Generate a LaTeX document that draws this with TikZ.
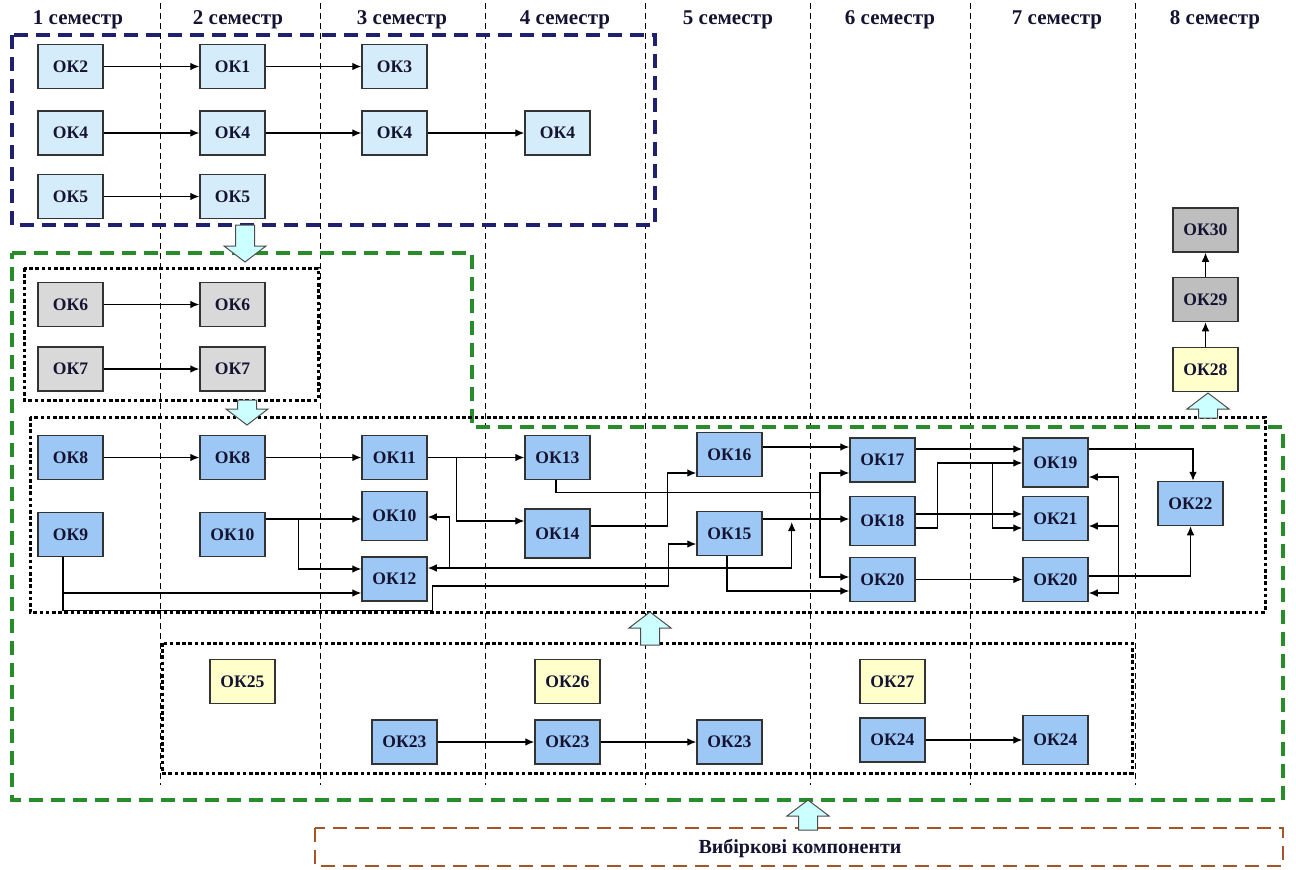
\documentclass[tikz,border=0pt]{standalone}
\usepackage{fontspec}
\setmainfont{Liberation Serif}
\usetikzlibrary{arrows.meta,calc}

\definecolor{boxblue}{RGB}{157,200,245}
\definecolor{paleblue}{RGB}{213,236,250}
\definecolor{boxgrey}{RGB}{217,217,217}
\definecolor{darkgrey}{RGB}{190,190,190}
\definecolor{paleyellow}{RGB}{255,255,204}
\definecolor{hollowcyan}{RGB}{204,255,255}
\definecolor{navyline}{RGB}{32,32,112}
\definecolor{greenline}{RGB}{40,140,40}
\definecolor{brownline}{RGB}{165,85,40}
\definecolor{labelink}{RGB}{20,20,50}

\begin{document}
\begin{tikzpicture}[x=0.5pt,y=-0.5pt,
   ok/.style={draw=black!80, line width=0.75pt, minimum width=32.5pt, minimum height=22pt,
      inner sep=0pt, text=labelink, font=\bfseries\fontsize{8.8}{10}\selectfont},
   okblue/.style={ok, fill=boxblue},
   okpale/.style={ok, fill=paleblue},
   okgrey/.style={ok, fill=boxgrey},
   okdark/.style={ok, fill=darkgrey},
   okyellow/.style={ok, fill=paleyellow},
   tall/.style={minimum height=24.5pt},
   arr/.style={-{Latex[length=4.5pt,width=3.8pt]}, line width=0.6pt},
   arrboth/.style={{Latex[length=4.5pt,width=3.8pt]}-{Latex[length=4.5pt,width=3.8pt]}, line width=0.6pt},
   wire/.style={line width=0.6pt},
   sem/.style={font=\bfseries\fontsize{10.5}{12}\selectfont, text=labelink},
   divider/.style={line width=0.4pt, dash pattern=on 3pt off 2pt},
   groupframe/.style={line width=1.6pt, dash pattern=on 7pt off 4pt},
   dotframe/.style={line width=1.5pt, dash pattern=on 1.8pt off 1.3pt},
   pics/hollowarrow/.style={code={
      \draw[draw=black!70, fill=hollowcyan, line width=0.5pt, line join=miter]
         (-9.5,0) -- (9.5,0) -- (9.5,{#1-16}) -- (21,{#1-16}) -- (0,#1)
         -- (-21,{#1-16}) -- (-9.5,{#1-16}) -- cycle;}}]

   \useasboundingbox (0,0) rectangle (1296,869);

   % Draw semester dividers and headers
   \foreach \x in {160,320,485,645,810,970,1135}
      \draw[divider] (\x,3) -- (\x,785);
   \foreach \n/\x in {1/78,2/238,3/402,4/565,5/728,6/890,7/1057,8/1215}
      \node[sem] (sem\n) at (\x,20) {\n\ семестр};

   % Draw group frames
   \draw[groupframe, navyline] (12,35) rectangle (655,225);
   \draw[groupframe, greenline] (12,253) -- (472,253) -- (472,427) -- (1283,427)
      -- (1283,800) -- (12,800) -- cycle;
   \draw[groupframe, brownline, line width=1.3pt] (315,828) rectangle (1283,866);
   \draw[dotframe] (24,268) rectangle (318,400);
   \draw[dotframe] (30,417) rectangle (1265,612);
   \draw[dotframe] (162,643) rectangle (1132,773);

   % First group
   \node[okpale] (ok2s1) at (70.5,66.5) {ОК2};
   \node[okpale] (ok1s2) at (232.5,66.5) {ОК1};
   \node[okpale] (ok3s3) at (394.5,66.5) {ОК3};
   \node[okpale] (ok4s1) at (70.5,133) {ОК4};
   \node[okpale] (ok4s2) at (232.5,133) {ОК4};
   \node[okpale] (ok4s3) at (394.5,133) {ОК4};
   \node[okpale] (ok4s4) at (557.5,133) {ОК4};
   \node[okpale] (ok5s1) at (70.5,196.5) {ОК5};
   \node[okpale] (ok5s2) at (232.5,196.5) {ОК5};
   \draw[arr] (ok2s1) -- (ok1s2);
   \draw[arr] (ok1s2) -- (ok3s3);
   \draw[arr] (ok4s1) -- (ok4s2);
   \draw[arr] (ok4s2) -- (ok4s3);
   \draw[arr] (ok4s3) -- (ok4s4);
   \draw[arr] (ok5s1) -- (ok5s2);

   % Second group
   \node[okgrey] (ok6s1) at (70.5,304.5) {ОК6};
   \node[okgrey] (ok6s2) at (232.5,304.5) {ОК6};
   \node[okgrey] (ok7s1) at (70.5,369) {ОК7};
   \node[okgrey] (ok7s2) at (232.5,369) {ОК7};
   \draw[arr] (ok6s1) -- (ok6s2);
   \draw[arr] (ok7s1) -- (ok7s2);

   % Main group
   \node[okblue] (ok8s1) at (70.5,457.5) {ОК8};
   \node[okblue] (ok8s2) at (232.5,457.5) {ОК8};
   \node[okblue] (ok11s3) at (394.5,457.5) {ОК11};
   \node[okblue] (ok13s4) at (557.5,457.5) {ОК13};
   \node[okblue] (ok16s5) at (729.5,454.5) {ОК16};
   \node[okblue] (ok17s6) at (882.5,460) {ОК17};
   \node[okblue, tall] (ok19s7) at (1055.5,462.5) {ОК19};
   \node[okblue] (ok22s8) at (1190.5,503.5) {ОК22};
   \node[okblue] (ok9s1) at (70.5,534.5) {ОК9};
   \node[okblue] (ok10s2) at (232.5,534.5) {ОК10};
   \node[okblue, tall] (ok10s3) at (394.5,516) {ОК10};
   \node[okblue, tall] (ok14s4) at (557.5,533.5) {ОК14};
   \node[okblue] (ok15s5) at (729.5,533.5) {ОК15};
   \node[okblue, tall] (ok18s6) at (882.5,521) {ОК18};
   \node[okblue] (ok21s7) at (1055.5,518.5) {ОК21};
   \node[okblue] (ok12s3) at (394.5,579) {ОК12};
   \node[okblue] (ok20s6) at (882.5,579.5) {ОК20};
   \node[okblue] (ok20s7) at (1055.5,579.5) {ОК20};

   \draw[arr] (ok8s1) -- (ok8s2);
   \draw[arr] (ok8s2) -- (ok11s3);
   \draw[arr] (ok11s3) -- (ok13s4);
   \coordinate (b11) at ($(ok11s3.east)+(29,0)$);
   \draw[arr] (b11) |- ($(ok14s4.west)+(0,-12.5)$);
   \coordinate (j13) at ($(ok13s4.south)+(262.5,12)$);
   \draw[wire] ($(ok13s4.south)+(-1.5,0)$) |- (j13);
   \draw[arr] (j13) |- ($(ok17s6.west)+(0,13)$);
   \draw[arr] (j13) |- ($(ok20s6.west)+(0,-2.5)$);
   \draw[arr] ($(ok14s4.east)+(0,-7.5)$) -- ++(77,0) |- ($(ok16s5.west)+(0,18.5)$);
   \draw[arr] ($(ok16s5.east)+(0,-7.5)$) -- ($(ok17s6.west)+(0,-13)$);

   \coordinate (s9) at ($(ok9s1.south)+(-7.5,0)$);
   \draw[arr] (s9) |- ($(ok12s3.west)+(0,14)$);
   \draw[arr] (s9) -- ++(0,53) -| ($(ok12s3.east)+(5,7)$) -- ++(236,0)
      |- ($(ok15s5.west)+(0,10.5)$);
   \draw[arr] ($(ok10s2.east)+(0,-15.5)$) -- ($(ok10s3.west)+(0,3)$);
   \coordinate (b10) at ($(ok10s2.east)+(33,-15.5)$);
   \draw[arr] (b10) |- ($(ok12s3.west)+(0,-10)$);
   \draw[arrboth] ($(ok12s3.east)+(0,-11)$) -| ++(364,-46);
   \coordinate (r12) at ($(ok12s3.east)+(22,-11)$);
   \draw[arr] (r12) |- ($(ok10s3.east)+(0,1)$);

   \draw[arr] ($(ok15s5.east)+(0,-14.5)$) -- ($(ok18s6.west)+(0,-2)$);
   \draw[arr] ($(ok15s5.south)+(-2.5,0)$) |- ($(ok20s6.west)+(0,11.5)$);
   \draw[arr] ($(ok17s6.east)+(0,-11)$) -- ($(ok19s7.west)+(0,-13.5)$);
   \draw[arr] ($(ok18s6.east)+(0,-7)$) -- ($(ok21s7.west)+(0,-4.5)$);
   \draw[arr] ($(ok18s6.east)+(0,7)$) -- ++(22,0) |- ($(ok19s7.west)+(0,0.5)$);
   \coordinate (b18) at ($(ok19s7.west)+(-30,0.5)$);
   \draw[arr] (b18) |- ($(ok21s7.west)+(0,9.5)$);
   \draw[arr] (ok20s6) -- (ok20s7);

   % Back links on the right
   \coordinate (fbtop) at ($(ok19s7.east)+(30,14.5)$);
   \coordinate (fbbot) at ($(ok20s7.east)+(30,13.5)$);
   \draw[wire] (fbtop) -- (fbbot);
   \draw[arr] (fbtop) -- ($(ok19s7.east)+(0,14.5)$);
   \draw[arr] ($(ok21s7.east)+(30,7.5)$) -- ($(ok21s7.east)+(0,7.5)$);
   \draw[arr] (fbbot) -- ($(ok20s7.east)+(0,13.5)$);
   \draw[arr] ($(ok19s7.east)+(0,-13.5)$) -| ($(ok22s8.north)+(2.5,0)$);
   \draw[arr] ($(ok20s7.east)+(0,-3.5)$) -| (ok22s8.south);

   % Final semester
   \node[okyellow] (ok28s8) at (1205.5,369.5) {ОК28};
   \node[okdark] (ok29s8) at (1205.5,299.5) {ОК29};
   \node[okdark] (ok30s8) at (1205.5,230) {ОК30};
   \draw[arr] (ok28s8) -- (ok29s8);
   \draw[arr] (ok29s8) -- (ok30s8);

   % Lower group
   \node[okyellow] (ok25s2) at (242.5,681.5) {ОК25};
   \node[okyellow] (ok26s4) at (567.5,681.5) {ОК26};
   \node[okyellow] (ok27s6) at (892.5,681.5) {ОК27};
   \node[okblue] (ok23s3) at (404.5,742) {ОК23};
   \node[okblue] (ok23s4) at (567.5,742) {ОК23};
   \node[okblue] (ok23s5) at (729.5,742) {ОК23};
   \node[okblue] (ok24s6) at (892.5,740) {ОК24};
   \node[okblue, tall] (ok24s7) at (1055.5,740) {ОК24};
   \draw[arr] (ok23s3) -- (ok23s4);
   \draw[arr] (ok23s4) -- (ok23s5);
   \draw[arr] (ok24s6) -- (ok24s7);

   \node[sem, font=\bfseries\fontsize{10}{12}\selectfont] (elective) at (800,848) {Вибіркові компоненти};

   % Draw hollow arrows between groups
   \pic at (245,225) {hollowarrow=37};
   \pic at (247,400) {hollowarrow=25};
   \pic[rotate=180] at (650,645) {hollowarrow=33};
   \pic[rotate=180] at (1208,418) {hollowarrow=25};
   \pic[rotate=180] at (808,830) {hollowarrow=30};
\end{tikzpicture}
\end{document}
